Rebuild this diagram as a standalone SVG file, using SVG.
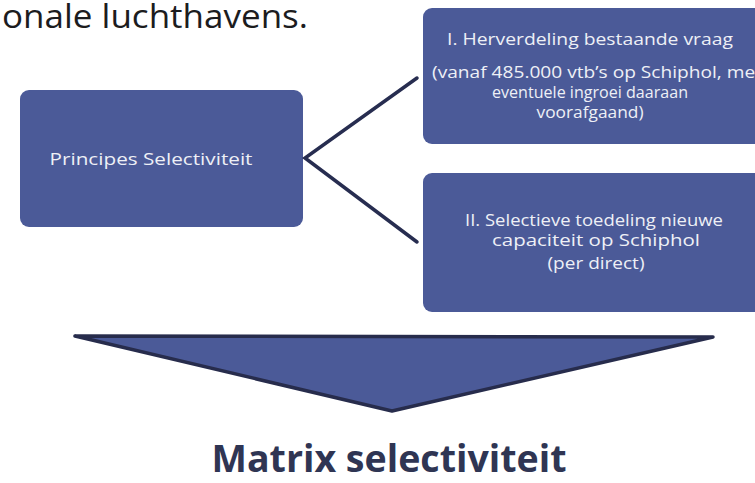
<svg xmlns="http://www.w3.org/2000/svg" width="755" height="483" viewBox="0 0 755 483">
<style>
.box{fill:#4b5a98}
.bt{font-family:"Open Sans","Liberation Sans",sans-serif;font-size:15.5px;fill:#eef0f6;text-anchor:middle}
.conn{stroke:#272d50;stroke-width:3.5;fill:none;stroke-linecap:round}
</style>
<rect width="755" height="483" fill="#ffffff"/>
<text x="2" y="28" font-family="'Open Sans','Liberation Sans',sans-serif" font-size="32" fill="#1c1c1e" textLength="306" lengthAdjust="spacingAndGlyphs">onale luchthavens.</text>
<g id="principes">
<rect class="box" x="20" y="90" width="283" height="137" rx="9"/>
<text class="bt" x="151" y="165" textLength="203" lengthAdjust="spacingAndGlyphs">Principes Selectiviteit</text>
</g>
<g id="herverdeling">
<rect class="box" x="423" y="8" width="340" height="136" rx="9"/>
<text class="bt" x="590" y="45" textLength="286" lengthAdjust="spacingAndGlyphs">I. Herverdeling bestaande vraag</text>
<text class="bt" x="432" y="78" style="text-anchor:start" textLength="330" lengthAdjust="spacingAndGlyphs">(vanaf 485.000 vtb’s op Schiphol, met</text>
<text class="bt" x="590" y="98" textLength="196" lengthAdjust="spacingAndGlyphs">eventuele ingroei daaraan</text>
<text class="bt" x="590" y="118" textLength="107" lengthAdjust="spacingAndGlyphs">voorafgaand)</text>
</g>
<g id="selectieve">
<rect class="box" x="423" y="173" width="340" height="139" rx="9"/>
<text class="bt" x="594" y="226" textLength="258" lengthAdjust="spacingAndGlyphs">II. Selectieve toedeling nieuwe</text>
<text class="bt" x="596" y="246" textLength="208" lengthAdjust="spacingAndGlyphs">capaciteit op Schiphol</text>
<text class="bt" x="596" y="269" textLength="97" lengthAdjust="spacingAndGlyphs">(per direct)</text>
</g>
<g id="connectors">
<polyline class="conn" points="417,78 305,158 417,242"/>
</g>
<g id="arrow">
<polygon points="75,336 713,337 392,411" fill="#4b5a98" stroke="#272c4c" stroke-width="3.5" stroke-linejoin="round"/>
</g>
<g id="matrix">
<text x="389" y="472" text-anchor="middle" font-family="'Open Sans','Liberation Sans',sans-serif" font-weight="bold" font-size="38" fill="#2f3553" textLength="355" lengthAdjust="spacingAndGlyphs">Matrix selectiviteit</text>
</g>
</svg>
